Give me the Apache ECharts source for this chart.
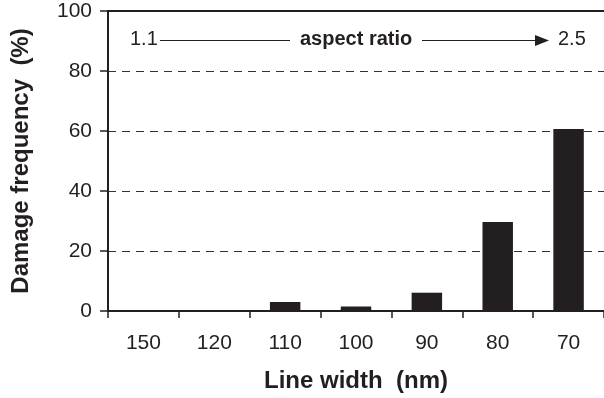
<!DOCTYPE html>
<html>
<head>
<meta charset="utf-8">
<script src="https://cdn.jsdelivr.net/npm/echarts@6/dist/echarts.min.js"></script>
<style>html,body{margin:0;padding:0;background:#fff}#c{width:604px;height:398px}</style>
</head>
<body>
<div id="c"></div>
<script>
const categories = ['150', '120', '110', '100', '90', '80', '70'];
const damageFrequency = [0, 0, 3.0, 1.5, 6.1, 29.7, 60.7];
const yTicks = [0, 20, 40, 60, 80, 100];
const xTitle = 'Line width  (nm)';
const yTitle = 'Damage frequency  (%)';

const ink = '#231f20';
const font = 'Liberation Sans, Arial, Helvetica, sans-serif';
const chart = echarts.init(document.getElementById('c'), null, {renderer: 'canvas'});
chart.setOption({
  animation: false,
  backgroundColor: '#fff',
  grid: {left: 108, top: 11, right: -1, bottom: 83.5, containLabel: false},
  xAxis: [{
    type: 'category',
    data: categories,
    boundaryGap: true,
    position: 'bottom',
    axisLine: {show: true, lineStyle: {color: ink, width: 2}},
    axisTick: {show: true, inside: false, length: 7, alignWithLabel: false, lineStyle: {color: ink, width: 1.5}},
    axisLabel: {color: ink, fontSize: 21, fontFamily: font, margin: 22},
    name: xTitle,
    nameLocation: 'middle',
    nameGap: 58,
    nameTextStyle: {color: ink, fontSize: 24, fontWeight: 'bold', fontFamily: font},
    splitLine: {show: false}
  }, {
    type: 'category',
    data: categories,
    position: 'top',
    axisLine: {show: true, lineStyle: {color: ink, width: 2}},
    axisTick: {show: false},
    axisLabel: {show: false},
    splitLine: {show: false}
  }],
  yAxis: {
    type: 'value',
    min: yTicks[0],
    max: yTicks[yTicks.length - 1],
    interval: 20,
    axisLine: {show: true, lineStyle: {color: ink, width: 2}},
    axisTick: {show: true, length: 8, lineStyle: {color: ink, width: 1.5}},
    axisLabel: {color: ink, fontSize: 21, fontFamily: font, margin: 16},
    splitLine: {show: true, lineStyle: {color: '#333', width: 1, type: [8, 6]}},
    name: yTitle,
    nameLocation: 'middle',
    nameGap: 75,
    nameRotate: 90,
    nameTextStyle: {color: ink, fontSize: 24, fontWeight: 'bold', fontFamily: font}
  },
  series: [{
    type: 'bar',
    data: damageFrequency,
    barWidth: '43%',
    itemStyle: {color: ink}
  }],
  graphic: [
    {type: 'text', left: 130, top: 29, style: {text: '1.1', fill: ink, fontSize: 20, fontFamily: font}},
    {type: 'line', shape: {x1: 160, y1: 40.5, x2: 290, y2: 40.5}, style: {stroke: ink, lineWidth: 1.2}},
    {type: 'text', left: 300, top: 29, style: {text: 'aspect ratio', fill: ink, fontSize: 20, fontWeight: 'bold', fontFamily: font}},
    {type: 'line', shape: {x1: 422, y1: 40.5, x2: 537, y2: 40.5}, style: {stroke: ink, lineWidth: 1.2}},
    {type: 'polygon', shape: {points: [[535, 35], [549, 40.5], [535, 46]]}, style: {fill: ink}},
    {type: 'text', left: 558, top: 29, style: {text: '2.5', fill: ink, fontSize: 20, fontFamily: font}}
  ]
});
</script>
</body>
</html>
